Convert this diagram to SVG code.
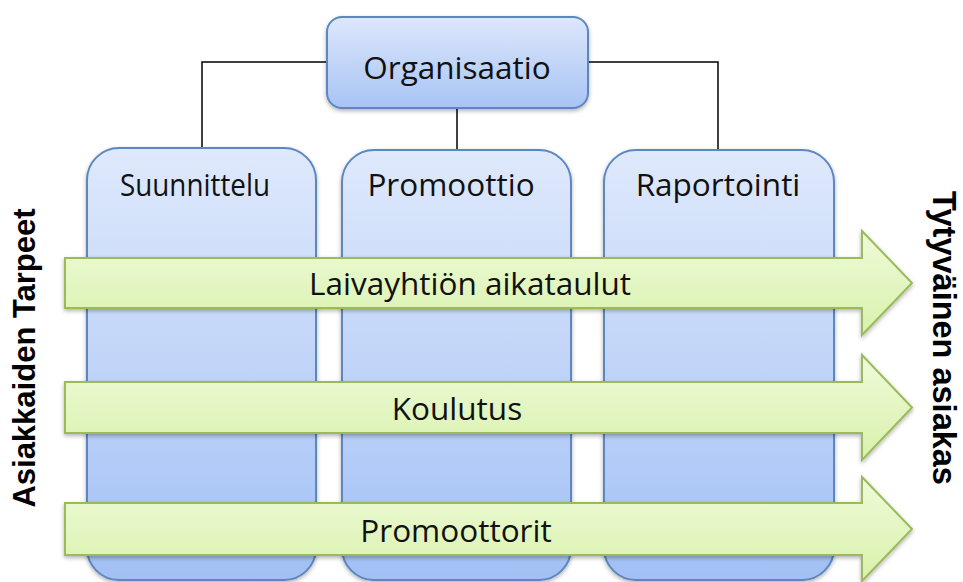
<svg xmlns="http://www.w3.org/2000/svg" width="963" height="582" viewBox="0 0 963 582">
<defs>
<linearGradient id="gBlue" x1="0" y1="0" x2="0" y2="1">
<stop offset="0" stop-color="#dfe9fc"/>
<stop offset="1" stop-color="#a2c0f5"/>
</linearGradient>
<linearGradient id="gOrg" x1="0" y1="0" x2="0" y2="1">
<stop offset="0" stop-color="#dde7fb"/>
<stop offset="1" stop-color="#a8c4f5"/>
</linearGradient>
<linearGradient id="gGreen" x1="0" y1="0" x2="0" y2="1">
<stop offset="0" stop-color="#eefbd9"/>
<stop offset="1" stop-color="#d9f1ac"/>
</linearGradient>
<filter id="sh" x="-10%" y="-10%" width="120%" height="130%">
<feDropShadow dx="0" dy="2" stdDeviation="2" flood-color="#000" flood-opacity="0.3"/>
</filter>
</defs>
<style>
.col{fill:url(#gBlue);stroke:#5b87c1;stroke-width:2;filter:url(#sh)}
.org{fill:url(#gOrg);stroke:#5b87c1;stroke-width:2;filter:url(#sh)}
.arr{fill:url(#gGreen);stroke:#9bbb59;stroke-width:2;filter:url(#sh)}
.lbl{font-family:"Open Sans","Liberation Sans",sans-serif;font-size:31.5px;fill:#111;text-anchor:middle}
.side{font-family:"Liberation Sans","DejaVu Sans",sans-serif;font-size:31px;font-weight:bold;fill:#000;text-anchor:middle}
.ln{fill:none;stroke:#000;stroke-width:1.5}
</style>
<g id="connectors">
<path class="ln" d="M202 150 V62 H327"/>
<path class="ln" d="M588 62 H718 V150"/>
<path class="ln" d="M457 108 V152"/>
</g>
<g id="suunnittelu">
<path class="col" d="M119 148 H284 A32 32 0 0 1 316 180 V548 A32 32 0 0 1 284 580 H119 A32 32 0 0 1 87 548 V180 A32 32 0 0 1 119 148 Z"/>
<text class="lbl" x="195" y="196" textLength="150" lengthAdjust="spacingAndGlyphs">Suunnittelu</text>
</g>
<g id="promoottio">
<path class="col" d="M374 150 H539 A32 32 0 0 1 571 182 V548 A32 32 0 0 1 539 580 H374 A32 32 0 0 1 342 548 V182 A32 32 0 0 1 374 150 Z"/>
<text class="lbl" x="451" y="196">Promoottio</text>
</g>
<g id="raportointi">
<path class="col" d="M636 150 H802 A32 32 0 0 1 834 182 V548 A32 32 0 0 1 802 580 H636 A32 32 0 0 1 604 548 V182 A32 32 0 0 1 636 150 Z"/>
<text class="lbl" x="718" y="196">Raportointi</text>
</g>
<g id="organisaatio">
<rect class="org" x="327" y="17" width="261" height="91" rx="15"/>
<text class="lbl" x="457" y="79">Organisaatio</text>
</g>
<g id="laivayhtion">
<path class="arr" d="M65 258 H862 V231 L912 283 L862 335 V308 H65 Z"/>
<text class="lbl" x="470" y="295">Laivayhtiön aikataulut</text>
</g>
<g id="koulutus">
<path class="arr" d="M65 382 H862 V355 L912 407.5 L862 460 V433 H65 Z"/>
<text class="lbl" x="457" y="420">Koulutus</text>
</g>
<g id="promoottorit">
<path class="arr" d="M65 503 H862 V477 L912 529 L862 581 V555 H65 Z"/>
<text class="lbl" x="456" y="542">Promoottorit</text>
</g>
<g id="asiakkaiden">
<text class="side" transform="translate(35 358) rotate(-90)">Asiakkaiden Tarpeet</text>
</g>
<g id="tytyvainen">
<text class="side" style="font-size:32.5px" transform="translate(933 338) rotate(90)">Tytyväinen asiakas</text>
</g>
</svg>
